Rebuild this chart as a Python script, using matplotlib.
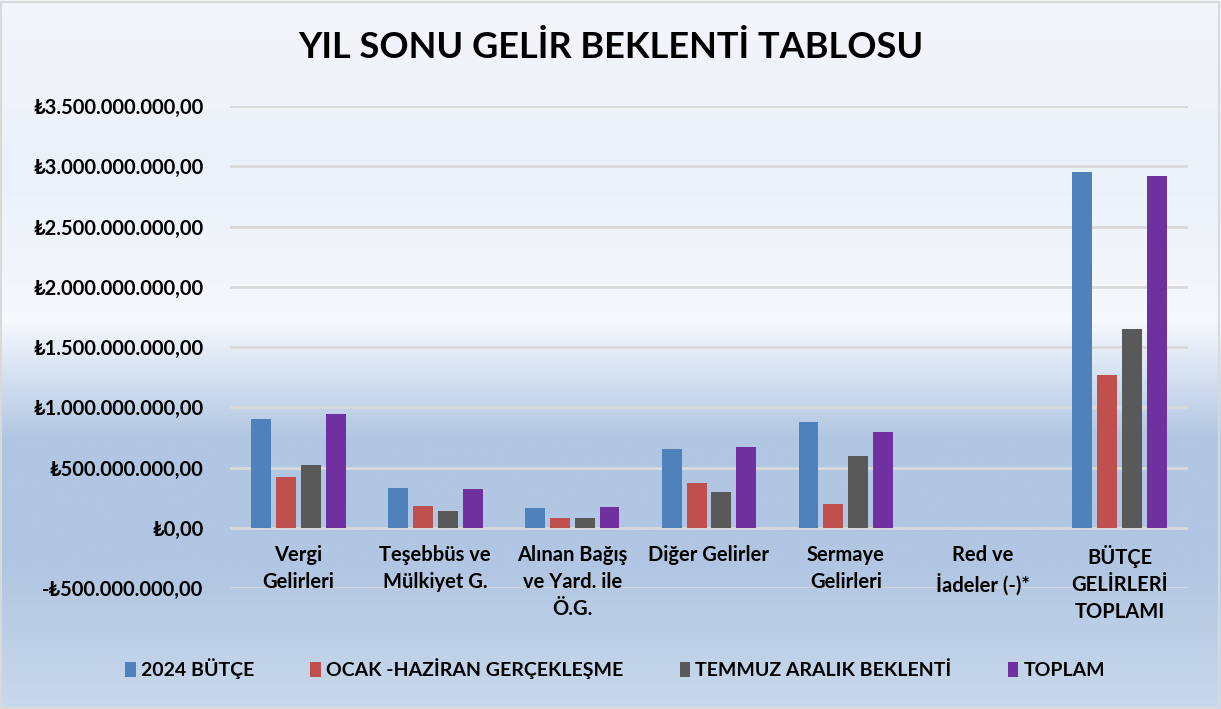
import matplotlib
matplotlib.use("Agg")
import matplotlib.pyplot as plt
import numpy as np
from matplotlib.colors import LinearSegmentedColormap
from matplotlib.ticker import FuncFormatter
from matplotlib.patches import Rectangle
import matplotlib.transforms as mtrans

plt.rcParams['font.family'] = ['Lato', 'DejaVu Sans']
WEIGHT = "bold"

categories = ["Vergi\nGelirleri", "Teşebbüs ve\nMülkiyet G.", "Alınan Bağış\nve Yard. ile\nÖ.G.",
              "Diğer Gelirler", "Sermaye\nGelirleri", "Red ve\nİadeler (-)*", "BÜTÇE\nGELİRLERİ\nTOPLAMI"]
series_names = ["2024 BÜTÇE", "OCAK -HAZİRAN GERÇEKLEŞME", "TEMMUZ ARALIK BEKLENTİ", "TOPLAM"]
butce_2024 = [904e6, 326e6, 166e6, 655e6, 879e6, 0, 2950e6]
ocak_haziran = [420e6, 177e6, 83e6, 371e6, 196e6, 0, 1265e6]
temmuz_aralik = [517e6, 141e6, 83e6, 293e6, 597e6, 0, 1651e6]
toplam = [948e6, 321e6, 172e6, 670e6, 796e6, 0, 2922e6]
series = [butce_2024, ocak_haziran, temmuz_aralik, toplam]
colors = ["#4F81BD", "#C0504D", "#595959", "#7030A0"]
yticks = np.arange(-500e6, 3500e6 + 1, 500e6)

W, H = 1221, 709
fig = plt.figure(figsize=(W / 100, H / 100), dpi=100)

# background gradient
bg = fig.add_axes([0, 0, 1, 1], zorder=-10)
cmap = LinearSegmentedColormap.from_list("bg", [
    (0.0, "#f3f6fb"), (0.25, "#eaf1f9"), (0.45, "#f6f9fd"), (0.62, "#b1c6e2"),
    (0.80, "#b1c6e2"), (1.0, "#c9d9ec")])
grad = np.linspace(0, 1, 256).reshape(-1, 1)
bg.imshow(grad, aspect="auto", cmap=cmap, extent=[0, 1, 0, 1], origin="upper")
bg.set_xlim(0, 1); bg.set_ylim(0, 1)
bg.axis("off")
bg.add_patch(Rectangle((0.001, 0.002), 0.997, 0.995, fill=False, edgecolor="#d9d9d9", lw=1.5,
                       transform=bg.transAxes))

left, right = 230 / W, 1188 / W
bottom, top = 1 - 588 / H, 1 - 106 / H
ax = fig.add_axes([left, bottom, right - left, top - bottom])
ax.patch.set_alpha(0)

x = np.arange(len(categories))
step = 0.182
width = 0.146
for i, (vals, c, name) in enumerate(zip(series, colors, series_names)):
    ax.bar(x + (i - 1.5) * step, vals, width, color=c, label=name, zorder=3, linewidth=0)

ax.set_ylim(-500e6, 3500e6)
ax.set_xlim(-0.5, len(categories) - 0.5)
ax.set_yticks(yticks)
ax.yaxis.set_major_formatter(FuncFormatter(
    lambda v, p: ("-" if v < 0 else "") + "₺" + f"{abs(v):,.2f}".replace(",", "X").replace(".", ",").replace("X", ".")))
ax.grid(axis="y", color="#d9d9d9", lw=2, zorder=0)
for s in ax.spines.values():
    s.set_visible(False)
ax.tick_params(axis="y", length=0, pad=19, labelsize=14.5)
for lab in ax.get_yticklabels():
    lab.set_fontweight(WEIGHT)
ax.set_xticks(x)
ax.set_xticklabels([])
ax.tick_params(axis="x", length=0)
tr = mtrans.blended_transform_factory(ax.transData, fig.transFigure)
for xi, cat in zip(x, categories):
    ax.text(xi, 1 - 545 / H, cat, transform=tr,
            ha="center", va="top", fontsize=14.5, fontweight=WEIGHT, linespacing=1.45)

fig.text(611 / W, 1 - 48 / H, "YIL SONU GELİR BEKLENTİ TABLOSU", ha="center", va="center",
         fontsize=26, fontweight=WEIGHT)

leg = fig.legend(loc="center", bbox_to_anchor=(615 / W, 1 - 669 / H), ncol=4, frameon=False,
                 prop={"weight": WEIGHT, "size": 14}, handlelength=0.55, handleheight=0.85,
                 columnspacing=2.9, handletextpad=0.25)

fig.savefig("out.png", dpi=100)
